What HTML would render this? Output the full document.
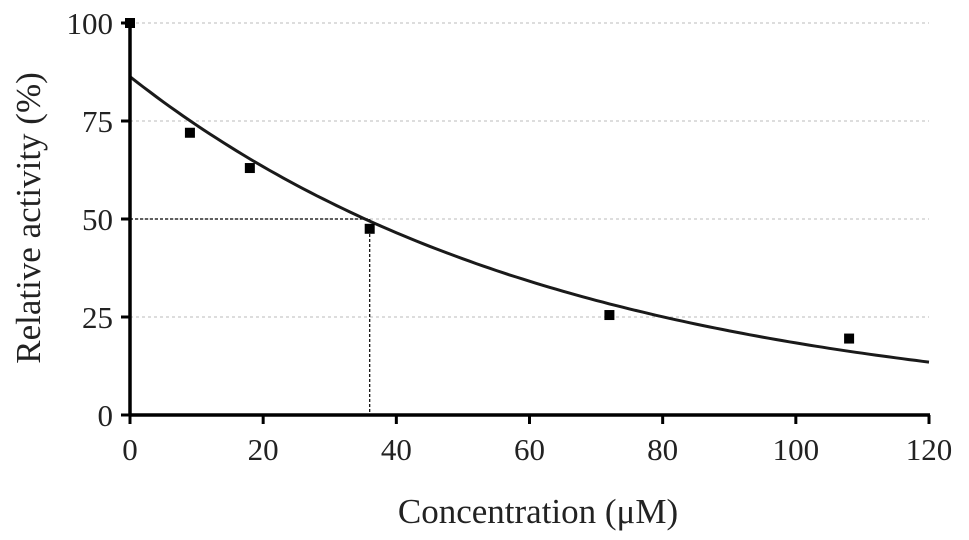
<!DOCTYPE html>
<html><head><meta charset="utf-8"><style>
body{margin:0;background:#fff;}
svg{display:block;font-family:"Liberation Serif",serif;}
</style></head><body>
<svg id="chart" width="969" height="540"></svg>
<script>
const xTicks=[0,20,40,60,80,100,120];
const yTicks=[0,25,50,75,100];
const concentrations=[0,9,18,36,72,108];
const activity=[100,72,63,47.5,25.5,19.5];
const fitA=[86.3];
const fitK=[0.01546];
const ic50=[36,50];
const NS="http://www.w3.org/2000/svg";
const svg=document.getElementById('chart');
const X=v=>130+v*(929-130)/120;
const Y=v=>415-v*(415-23)/100;
function mk(tag,attrs,parent){const e=document.createElementNS(NS,tag);for(const k in attrs)e.setAttribute(k,attrs[k]);(parent||svg).appendChild(e);return e;}
yTicks.forEach(t=>{if(t===0)return;
 const g=mk('line',{x1:X(0),x2:X(120),y1:Y(t),y2:Y(t),stroke:'#bbb','stroke-width':1,'stroke-dasharray':'3,3'});
 
 });
const h=mk('line',{x1:X(0),x2:X(ic50[0]),y1:Y(ic50[1]),y2:Y(ic50[1]),stroke:'#000','stroke-width':1.2,'stroke-dasharray':'3,2'});


const v=mk('line',{x1:X(ic50[0]),x2:X(ic50[0]),y1:Y(ic50[1]),y2:Y(0),stroke:'#000','stroke-width':1.2,'stroke-dasharray':'3,2'});


let d='';for(let i=0;i<=120;i++){const yv=fitA[0]*Math.exp(-fitK[0]*i);d+=(i?'L':'M')+X(i).toFixed(1)+','+Y(yv).toFixed(1);}
const c=mk('path',{d:d,fill:'none',stroke:'#1a1a1a','stroke-width':3});


concentrations.forEach((cx,i)=>{const p=mk('rect',{x:X(cx)-5,y:Y(activity[i])-5,width:10,height:10,fill:'#000'});
 
 });
const ax=mk('line',{x1:X(0),x2:X(0),y1:Y(100)-2,y2:Y(0)+1.5,stroke:'#000','stroke-width':3.5});


const bx=mk('line',{x1:X(0)-1.5,x2:X(120)+1,y1:Y(0),y2:Y(0),stroke:'#000','stroke-width':3.5});


xTicks.forEach(t=>{
 const tk=mk('line',{x1:X(t),x2:X(t),y1:Y(0),y2:Y(0)+9,stroke:'#000','stroke-width':3});
 
 
 const tl=mk('text',{x:X(t),y:460,'text-anchor':'middle','font-size':31,fill:'#222'});tl.textContent=t;
 
 });
yTicks.forEach(t=>{
 const tk=mk('line',{x1:X(0)-9,x2:X(0),y1:Y(t),y2:Y(t),stroke:'#000','stroke-width':3});
 
 
 const tl=mk('text',{x:113,y:Y(t)+11,'text-anchor':'end','font-size':31,fill:'#222'});tl.textContent=t;
 
 });
const xt=mk('text',{x:538,y:523,'text-anchor':'middle','font-size':35,fill:'#222'});xt.textContent='Concentration (μM)';


const yt=mk('text',{x:0,y:0,'text-anchor':'middle','font-size':35,fill:'#222',transform:'translate(40,218) rotate(-90)'});yt.textContent='Relative activity (%)';


</script>
</body></html>
